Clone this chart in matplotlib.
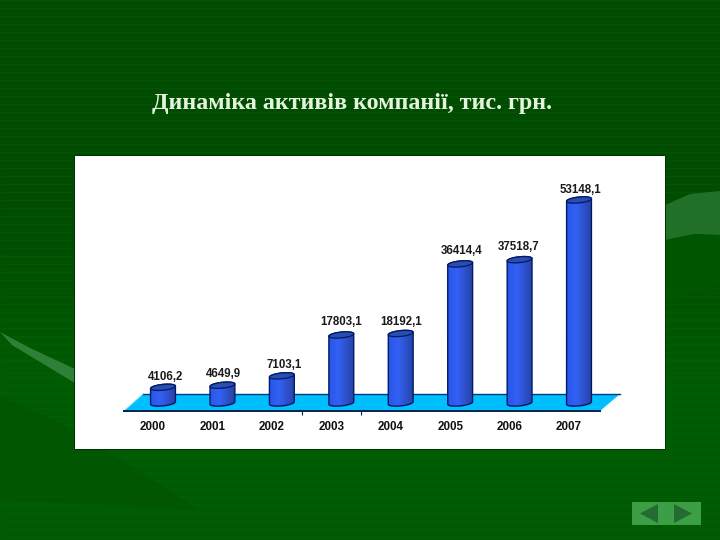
# Dynamics of company assets, slide style chart
import matplotlib
matplotlib.use('Agg')
import matplotlib.pyplot as plt
import numpy as np
from matplotlib.patches import Polygon, Rectangle

years = ['2000', '2001', '2002', '2003', '2004', '2005', '2006', '2007']
assets = [4106.2, 4649.9, 7103.1, 17803.1, 18192.1, 36414.4, 37518.7, 53148.1]
title = 'Динаміка активів компанії, тис. грн.'

# label nudges in pixels (the original has a hand placed look)
label_dx = [3, 1, 2, 0, 0, 1, -1, 1]
label_dy = [10, 11, 11, 13, 12, 13, 13, 10]

W, H = 720, 540
plt.rcParams['font.family'] = ['Liberation Sans', 'DejaVu Sans']

fig = plt.figure(figsize=(7.2, 5.4), dpi=100)

# Slide background, in pixel coordinates
bg = fig.add_axes([0, 0, 1, 1])
shade = np.array([[0.0, 0.30, 0.0], [0.0, 0.30, 0.0], [0.0, 0.31, 0.0],
                  [0.0, 0.37, 0.01], [0.0, 0.36, 0.01]]).reshape(5, 1, 3)
bg.imshow(shade, extent=[0, W, H, 0], aspect='auto', interpolation='bicubic', zorder=0)
bg.set_xlim(0, W)
bg.set_ylim(H, 0)
bg.axis('off')

# scan lines of the slide template
bg.hlines(np.arange(0, H, 8), 0, W, color='#1a6a1a', lw=0.5, alpha=0.3, zorder=0.5)

# faint swooshes
bg.add_patch(Polygon([[0, 332], [30, 348], [75, 369], [75, 383], [40, 362], [12, 345]],
                     color='#3b8a45', alpha=0.8, lw=0))
bg.add_patch(Polygon([[0, 395], [75, 430], [200, 510], [0, 500]],
                     color='#004a00', alpha=0.3, lw=0))
bg.add_patch(Polygon([[665, 205], [690, 194], [720, 191], [720, 235], [695, 234], [665, 240]],
                     color='#2f7f3a', alpha=0.7, lw=0))
bg.add_patch(Polygon([[665, 240], [695, 234], [720, 235], [720, 285], [665, 300]],
                     color='#005a00', alpha=0.6, lw=0))

bg.text(352, 104, title, family=['Liberation Serif', 'DejaVu Serif'], fontsize=17.3,
        fontweight='bold', color='#e6f4de', ha='center', va='center')

# Navigation buttons
bg.add_patch(Rectangle((632, 502), 69, 23, color='#3c9f45', lw=0))
bg.add_patch(Polygon([[640, 513.5], [658, 504], [658, 523]], color='#236b30', lw=0))
bg.add_patch(Polygon([[674, 504], [692, 513.5], [674, 523]], color='#236b30', lw=0))

# Chart panel: value 0 sits at pixel y 403, one year is 59.43 px wide
left, right, top, bottom = 75, 665, 156, 449
x0, step = 163, 59.43
base_y = 403
per_px = max(assets) / 203

bg.add_patch(Rectangle((left - 1, top - 1), right - left + 2, bottom - top + 2, color='#003300', lw=0))

ax = fig.add_axes([left / W, 1 - bottom / H, (right - left) / W, (bottom - top) / H])
ax.set_facecolor('white')
xlim = ((left - x0) / step, (right - x0) / step)
ylim = ((base_y - bottom) * per_px, (base_y - top) * per_px)


def px(x, y):
    # pixel position to data position
    return (x - x0) / step, (base_y - y) * per_px


# Floor
floor = [px(143, 394), px(620, 394), px(600, 411), px(124, 411)]
ax.add_patch(Polygon(floor, facecolor='#00bfff', edgecolor='none', zorder=1))
ax.plot(*zip(px(143, 394), px(620, 394)), color='#003a80', lw=1, zorder=1.5)
ax.plot(*zip(px(143, 394), px(124, 411)), color='#7fdcff', lw=0.6, zorder=1.5)

# The x axis runs along the front edge of the floor, year labels shifted left like the 3D original
for name in ['top', 'left', 'right']:
    ax.spines[name].set_visible(False)
ax.spines['bottom'].set_position(('data', px(0, 411)[1]))
ax.spines['bottom'].set_bounds(px(124, 0)[0], px(600, 0)[0])
ax.spines['bottom'].set_color('#00204a')
ax.spines['bottom'].set_linewidth(1.4)
ax.set_yticks([])
ax.set_xticks(np.arange(len(years)) - 10 / step)
ax.set_xticklabels(years, fontsize=8.4, fontweight='bold', color='#111111')
ax.tick_params(axis='x', which='major', length=0, pad=7)
ax.set_xticks([2 + 20 / step, 3 + 20 / step], minor=True)
ax.tick_params(axis='x', which='minor', length=3, width=0.8, color='#00204a')

# Cylinders, ends are tilted ellipses like the 3D original
rx, ry, tilt = 12.5, 2.9, np.radians(6)
t = np.linspace(0, 2 * np.pi, 73)
ex = rx * np.cos(t) * np.cos(tilt) + ry * np.sin(t) * np.sin(tilt)
ey = rx * np.cos(t) * np.sin(tilt) - ry * np.sin(t) * np.cos(tilt)
front = t <= np.pi  # this half of the ring faces the viewer

grad = np.linspace(0, 1, 64)
c1 = np.array([0.15, 0.33, 0.90])
c2 = np.array([0.20, 0.38, 0.96])
c3 = np.array([0.15, 0.25, 0.62])
colors = np.zeros((1, 64, 3))
for k, g in enumerate(grad):
    if g < 0.4:
        colors[0, k] = c1 + (c2 - c1) * g / 0.4
    else:
        colors[0, k] = c2 + (c3 - c2) * (g - 0.4) / 0.6


def ring(i, v):
    # ellipse outline around the centre of bar i at value v, in data units
    return np.column_stack([i + ex / step, v + ey * per_px])


for i, v in enumerate(assets):
    low = ring(i, 0)
    high = ring(i, v)
    # outline of the whole cylinder: back of the top end, front of the bottom end
    outline = np.vstack([high[~front], low[front]])
    body = Polygon(outline, closed=True, facecolor='none', edgecolor='#001a66', lw=1, zorder=3.2)
    ax.add_patch(body)
    im = ax.imshow(colors, extent=[i - 14 / step, i + 14 / step, -5 * per_px, v + 5 * per_px],
                   aspect='auto', zorder=3)
    im.set_clip_path(body)
    ax.add_patch(Polygon(high, closed=True, facecolor='#2a4db0', edgecolor='#001a66', lw=0.9,
                         zorder=3.5))
    ax.annotate(f'{v:.1f}'.replace('.', ','), (i, v),
                xytext=(label_dx[i] * 0.72, label_dy[i] * 0.72),
                textcoords='offset points', ha='center', va='center', fontsize=8.3,
                fontweight='bold', color='#1a1a1a', zorder=5)

ax.set_xlim(xlim)
ax.set_ylim(ylim)

fig.savefig('out.png', dpi=100)
